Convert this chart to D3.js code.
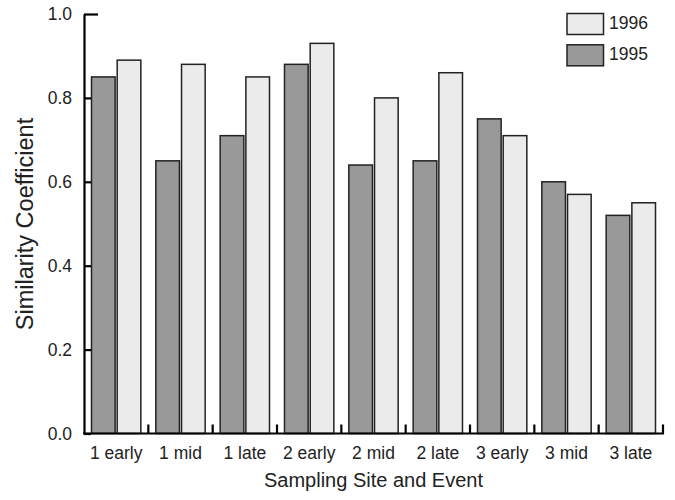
<!DOCTYPE html>
<html>
<head>
<meta charset="utf-8">
<script src="https://cdn.jsdelivr.net/npm/d3@7"></script>
<style>
  html, body { margin: 0; padding: 0; background: #fff; }
  svg { display: block; font-family: "Liberation Sans", Arial, sans-serif; }
</style>
</head>
<body>
<svg id="chart" width="675" height="500"></svg>
<script>
// Sampling events and similarity coefficients per year
const categories = ["1 early", "1 mid", "1 late", "2 early", "2 mid", "2 late", "3 early", "3 mid", "3 late"];
const values1995 = [0.85, 0.65, 0.71, 0.88, 0.64, 0.65, 0.75, 0.60, 0.52];
const values1996 = [0.89, 0.88, 0.85, 0.93, 0.80, 0.86, 0.71, 0.57, 0.55];
const yTicks = [0.0, 0.2, 0.4, 0.6, 0.8, 1.0];
const seriesNames = ["1995", "1996"];
const seriesColors = { "1995": "#999999", "1996": "#ebebeb" };

const svg = d3.select("#chart");
const plotLeft = 84, plotRight = 663, plotTop = 14, plotBottom = 433.5;
const labelSize = 17.5, titleSize = 20, yTitleSize = 23.5;

const x = d3.scaleBand().domain(categories).range([plotLeft, plotRight]).paddingInner(0).paddingOuter(0);
const inner = d3.scaleBand().domain(seriesNames).range([7.5, x.bandwidth() - 7.5]).paddingInner(0.08);
const y = d3.scaleLinear().domain([0, 1]).range([plotBottom, plotTop]);

const rows = categories.map((c, i) => ({ cat: c, vals: [
  { key: "1995", v: values1995[i] },
  { key: "1996", v: values1996[i] }
]}));

// Bars
const g = svg.append("g");
g.selectAll("g.grp").data(rows).join("g")
  .attr("class", "grp")
  .attr("transform", d => `translate(${x(d.cat)},0)`)
  .selectAll("rect").data(d => d.vals).join("rect")
  .attr("x", d => inner(d.key))
  .attr("width", inner.bandwidth())
  .attr("y", d => y(d.v))
  .attr("height", d => y(0) - y(d.v))
  .attr("fill", d => seriesColors[d.key])
  .attr("stroke", "#222")
  .attr("stroke-width", 1.5);

// Y axis with inward ticks
const yAxis = d3.axisLeft(y).tickValues(yTicks).tickFormat(d3.format(".1f")).tickSizeInner(-7).tickSizeOuter(0).tickPadding(12);
const ya = svg.append("g").attr("transform", `translate(${plotLeft},0)`).call(yAxis);
ya.attr("font-size", null).attr("font-family", null);
ya.select(".domain").attr("stroke", "#000").attr("stroke-width", 2.2);
ya.selectAll(".tick line").attr("stroke", "#000").attr("stroke-width", 2.2);
ya.selectAll(".tick").filter(d => d === 1).select("line").attr("x2", 14);
ya.selectAll(".tick text").attr("fill", "#222")
  .style("font-size", labelSize + "px")
  .style("font-family", "Liberation Sans, Arial, sans-serif");

// X axis with group separators ticking upward
const xa = svg.append("g").attr("transform", `translate(0,${plotBottom})`);
xa.append("line").attr("x1", plotLeft - 1).attr("x2", plotRight + 1).attr("stroke", "#000").attr("stroke-width", 2.2);
const bounds = categories.slice(1).map(c => x(c)).concat([plotRight]);
xa.selectAll("line.sep").data(bounds).join("line")
  .attr("class", "sep")
  .attr("x1", d => d).attr("x2", d => d)
  .attr("y1", 0).attr("y2", -9)
  .attr("stroke", "#000").attr("stroke-width", 2.2);
xa.selectAll("text").data(categories).join("text")
  .attr("x", d => x(d) + x.bandwidth() / 2)
  .attr("y", 25)
  .attr("text-anchor", "middle")
  .style("font-size", labelSize + "px")
  .attr("fill", "#222")
  .text(d => d);

// Axis titles
svg.append("text")
  .attr("x", (plotLeft + plotRight) / 2).attr("y", 487)
  .attr("text-anchor", "middle").style("font-size", titleSize + "px").attr("fill", "#222")
  .text("Sampling Site and Event");
svg.append("text")
  .attr("transform", "translate(33,224) rotate(-90)")
  .attr("text-anchor", "middle").style("font-size", yTitleSize + "px").attr("fill", "#222")
  .text("Similarity Coefficient");

// Legend
const legendItems = ["1996", "1995"];
const lg = svg.append("g").attr("transform", "translate(567,13.5)");
const li = lg.selectAll("g").data(legendItems).join("g")
  .attr("transform", (d, i) => `translate(0,${i * 31.3})`);
li.append("rect").attr("width", 36.5).attr("height", 21)
  .attr("fill", d => seriesColors[d]).attr("stroke", "#222").attr("stroke-width", 1.5);
li.append("text").attr("x", 42).attr("y", 15.5).style("font-size", labelSize + "px").attr("fill", "#222").text(d => d);
</script>
</body>
</html>
